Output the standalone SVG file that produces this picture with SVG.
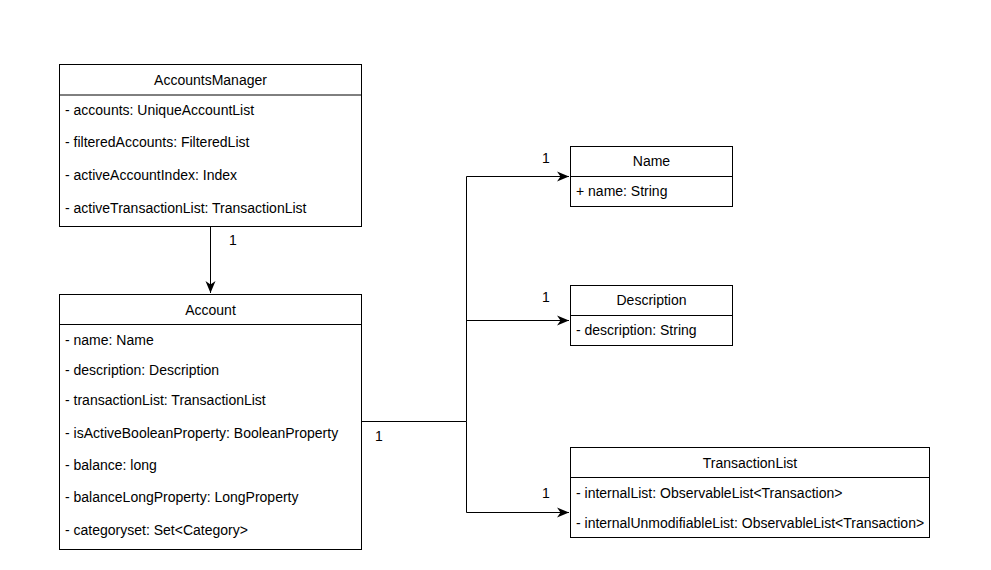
<svg xmlns="http://www.w3.org/2000/svg" width="991" height="570" viewBox="0 0 991 570">
<style>
.box{fill:#fff;stroke:#000;stroke-width:1}
.t{font-family:"Liberation Sans",Arial,Helvetica,sans-serif;font-size:14px;fill:#000;dominant-baseline:central}
.c{text-anchor:middle}
.ln{fill:none;stroke:#000;stroke-width:1}
</style>
<defs>
<marker id="arr" markerWidth="13" markerHeight="11" viewBox="0 0 13 11" refX="12" refY="5.5" orient="auto" markerUnits="userSpaceOnUse">
<path d="M0,0.5 L12,5.5 L0,10.5 L3.5,5.5 Z" fill="#000"/>
</marker>
</defs>
<rect width="991" height="570" fill="#fff"/>
<g id="connectors">
<path class="ln" d="M210.5,227 V293" marker-end="url(#arr)"/>
<path class="ln" d="M361,421.5 H466.5 V176.5 H569" marker-end="url(#arr)"/>
<path class="ln" d="M466.5,320.5 H569" marker-end="url(#arr)"/>
<path class="ln" d="M466.5,421.5 V512.5 H569" marker-end="url(#arr)"/>
<text class="t" x="229" y="240">1</text>
<text class="t" x="375" y="436">1</text>
<text class="t" x="542" y="158">1</text>
<text class="t" x="542" y="297">1</text>
<text class="t" x="542" y="493">1</text>
</g>
<g id="AccountsManager">
<rect class="box" x="59.5" y="64.5" width="302" height="162"/>
<line class="ln" x1="59.5" y1="95" x2="361.5" y2="95"/>
<text class="t c" x="210.5" y="80">AccountsManager</text>
<text class="t" x="65" y="110">- accounts: UniqueAccountList</text>
<text class="t" x="65" y="142">- filteredAccounts: FilteredList</text>
<text class="t" x="65" y="175">- activeAccountIndex: Index</text>
<text class="t" x="65" y="208">- activeTransactionList: TransactionList</text>
</g>
<g id="Account">
<rect class="box" x="59.5" y="294.5" width="302" height="255"/>
<line class="ln" x1="59.5" y1="324.5" x2="361.5" y2="324.5"/>
<text class="t c" x="210.5" y="310">Account</text>
<text class="t" x="65" y="340">- name: Name</text>
<text class="t" x="65" y="370">- description: Description</text>
<text class="t" x="65" y="400">- transactionList: TransactionList</text>
<text class="t" x="65" y="433">- isActiveBooleanProperty: BooleanProperty</text>
<text class="t" x="65" y="465">- balance: long</text>
<text class="t" x="65" y="497">- balanceLongProperty: LongProperty</text>
<text class="t" x="65" y="530">- categoryset: Set&lt;Category&gt;</text>
</g>
<g id="Name">
<rect class="box" x="570.5" y="146.5" width="162" height="60"/>
<line class="ln" x1="570.5" y1="176.5" x2="732.5" y2="176.5"/>
<text class="t c" x="651.5" y="161">Name</text>
<text class="t" x="576" y="191">+ name: String</text>
</g>
<g id="Description">
<rect class="box" x="570.5" y="285.5" width="162" height="60"/>
<line class="ln" x1="570.5" y1="315.5" x2="732.5" y2="315.5"/>
<text class="t c" x="651.5" y="300">Description</text>
<text class="t" x="576" y="330">- description: String</text>
</g>
<g id="TransactionList">
<rect class="box" x="570.5" y="447.5" width="359" height="90"/>
<line class="ln" x1="570.5" y1="477.5" x2="929.5" y2="477.5"/>
<text class="t c" x="750" y="463">TransactionList</text>
<text class="t" x="576" y="493">- internalList: ObservableList&lt;Transaction&gt;</text>
<text class="t" x="576" y="523">- internalUnmodifiableList: ObservableList&lt;Transaction&gt;</text>
</g>
</svg>
